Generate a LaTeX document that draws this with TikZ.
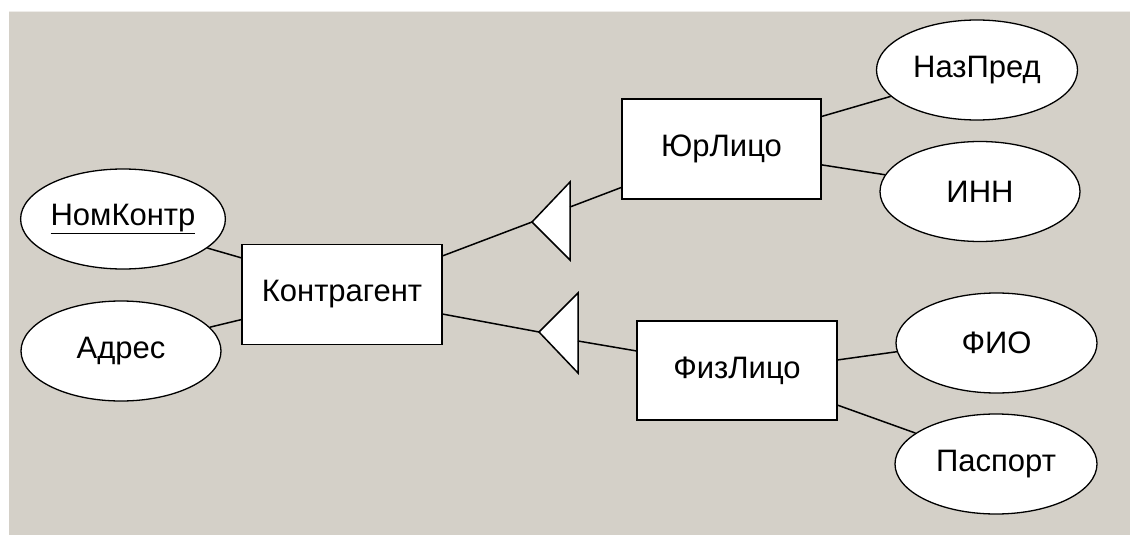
\documentclass[tikz,border=0pt]{standalone}
\usepackage{fontspec}
\setmainfont{Liberation Sans}
\usetikzlibrary{shapes.geometric}
\definecolor{panel}{HTML}{D4D0C8}
\tikzset{
  entity/.style={draw=black, fill=white, line width=1.5pt, rectangle,
    minimum width=200pt, minimum height=100pt, inner sep=0pt,
    font=\fontsize{31}{35}\selectfont},
  attr/.style={draw=black, fill=white, line width=1.3pt, ellipse,
    minimum width=200pt, minimum height=100pt, inner sep=0pt,
    font=\fontsize{31}{35}\selectfont},
  link/.style={draw=black, line width=1.5pt},
  isa/.style={draw=black, fill=white, line width=1.5pt, line join=miter}
}
\begin{document}
\begin{tikzpicture}[x=1pt, y=-1pt]
  \useasboundingbox (0,0) rectangle (1130,535);
  \fill[white] (0,0) rectangle (1130,535);
  \fill[panel] (9,11) rectangle (1130,535);
  \draw[panel!40!white, line width=1pt] (9,11.5) -- (1130,11.5);

  % entities
  \node[entity] (kg) at (342,294.5) {Контрагент};
  \node[entity, minimum width=199pt] (ul) at (721.5,149) {ЮрЛицо};
  \node[entity, minimum height=99pt] (fl) at (737,370.5) {ФизЛицо};

  % attributes
  \node[attr] (nk) at (123,219) {\underline{НомКонтр}};
  \node[attr] (ad) at (121,351) {Адрес};
  \node[attr, minimum width=201pt] (np) at (977,70) {НазПред};
  \node[attr] (inn) at (980,191.5) {ИНН};
  \node[attr, minimum width=201pt] (fio) at (996.5,343) {ФИО};
  \node[attr, minimum width=202pt] (ps) at (996,464) {Паспорт};

  % specialisation triangles
  \coordinate (t1a) at (532,222);
  \coordinate (t1b) at (570,182);
  \coordinate (t1c) at (570,260);
  \coordinate (t1m) at (570,207);
  \coordinate (t2a) at (539,332);
  \coordinate (t2b) at (578,293);
  \coordinate (t2c) at (578,373);
  \coordinate (t2m) at (578,341);
  \draw[isa] (t1a) -- (t1b) -- (t1c) -- cycle;
  \draw[isa] (t2a) -- (t2b) -- (t2c) -- cycle;

  % attribute links
  \draw[link] (nk.-19) -- (kg.160.5);
  \draw[link] (ad.15) -- (kg.194);
  \draw[link] (ul.18.9) -- (np.197.8);
  \draw[link] (ul.-9.1) -- (inn.170.1);
  \draw[link] (fl.6) -- (fio.185.7);
  \draw[link] (fl.-19.5) -- (ps.159.5);

  % generalisation links
  \draw[link] (kg.21) -- (t1a);
  \draw[link] (t1m) -- (ul.201.4);
  \draw[link] (kg.-11) -- (t2a);
  \draw[link] (t2m) -- (fl.169);
\end{tikzpicture}
\end{document}
